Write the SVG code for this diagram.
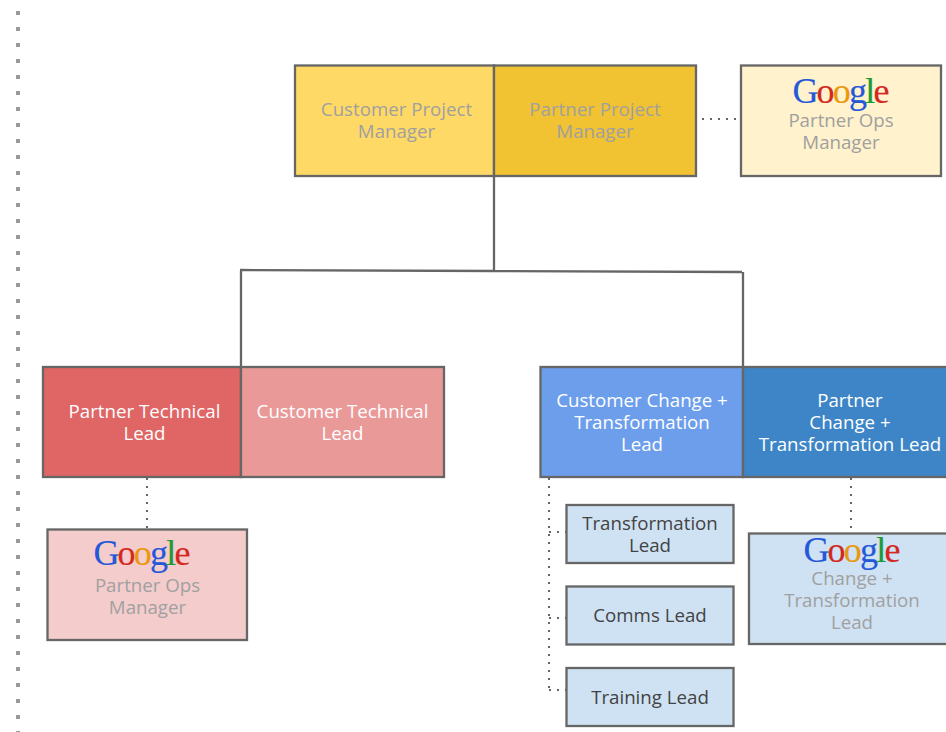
<svg xmlns="http://www.w3.org/2000/svg" width="946" height="732" viewBox="0 0 946 732">
<style>
.b{stroke:#666;stroke-width:2.300}
.t{font-family:"Open Sans","Noto Sans",sans-serif;font-size:18.700px;text-anchor:middle}
.g{fill:#a0a0a0}.w{fill:#fff}.d{fill:#434343}
.l{font-family:"Liberation Serif",serif;font-size:36px;letter-spacing:-1.800px;text-anchor:middle;stroke-width:.2px}
.c{fill:none;stroke:#666;stroke-width:2.300}
.o{fill:none;stroke:#666;stroke-width:2;stroke-dasharray:2 6}
.gb{fill:#2458d8;stroke:#2458d8}.gr{fill:#d4281f;stroke:#d4281f}.gy{fill:#e8980c;stroke:#e8980c}.gn{fill:#1c9a34;stroke:#1c9a34}
</style>
<defs>
<g id="logo"><text class="l" y="0"><tspan class="gb">G</tspan><tspan class="gr">o</tspan><tspan class="gy">o</tspan><tspan class="gb">g</tspan><tspan class="gn">l</tspan><tspan class="gr">e</tspan></text></g>
</defs>
<path id="margin" d="M18 11V732" fill="none" stroke="#999" stroke-width="4" stroke-dasharray="4 12"/>
<g id="connectors">
<path class="c" d="M494 176V271M240 270L494 271L742 272M241 271V367M743 272V367"/>
<path class="o" d="M702 119H738M147 478V531M851 478V531M549 478V692M549 532H566M549 618H566M549 690H566"/>
</g>
<g id="customer-pm"><rect class="b" x="295" y="65.500" width="199" height="110.500" fill="#ffd966"/><text class="t g" y="116"><tspan x="396.500">Customer Project</tspan><tspan x="396.500" dy="22">Manager</tspan></text></g>
<g id="partner-pm"><rect class="b" x="494" y="65.500" width="202" height="110.500" fill="#f1c232"/><text class="t g" y="116"><tspan x="595">Partner Project</tspan><tspan x="595" dy="22">Manager</tspan></text></g>
<g id="google-ops-top"><rect class="b" x="741" y="65.500" width="200" height="110.500" fill="#fff2cc"/><use href="#logo" x="840" y="103"/><text class="t g" y="127"><tspan x="841">Partner Ops</tspan><tspan x="841" dy="22">Manager</tspan></text></g>
<g id="partner-tech"><rect class="b" x="43" y="367" width="198" height="110" fill="#e06666"/><text class="t w" y="418"><tspan x="144.500">Partner Technical</tspan><tspan x="144.500" dy="22">Lead</tspan></text></g>
<g id="customer-tech"><rect class="b" x="241" y="367" width="203" height="110" fill="#ea9999"/><text class="t w" y="418"><tspan x="342.500">Customer Technical</tspan><tspan x="342.500" dy="22">Lead</tspan></text></g>
<g id="customer-change"><rect class="b" x="540.500" y="367" width="202.500" height="110" fill="#6d9eeb"/><text class="t w" y="407"><tspan x="642">Customer Change +</tspan><tspan x="642" dy="22">Transformation</tspan><tspan x="642" dy="22">Lead</tspan></text></g>
<g id="partner-change"><rect class="b" x="743" y="367" width="210" height="110" fill="#3d85c6"/><text class="t w" y="407"><tspan x="850">Partner</tspan><tspan x="850" dy="22">Change +</tspan><tspan x="850" dy="22">Transformation Lead</tspan></text></g>
<g id="google-ops-left"><rect class="b" x="47.500" y="529.500" width="199.500" height="110.500" fill="#f4cccc"/><use href="#logo" x="141" y="565"/><text class="t g" y="592"><tspan x="147.500">Partner Ops</tspan><tspan x="147.500" dy="22">Manager</tspan></text></g>
<g id="transformation-lead"><rect class="b" x="566.500" y="505" width="167" height="58" fill="#cfe2f3"/><text class="t d" y="530"><tspan x="650">Transformation</tspan><tspan x="650" dy="22">Lead</tspan></text></g>
<g id="comms-lead"><rect class="b" x="566.500" y="586.500" width="167" height="58" fill="#cfe2f3"/><text class="t d" x="650" y="622">Comms Lead</text></g>
<g id="training-lead"><rect class="b" x="566.500" y="668" width="167" height="58" fill="#cfe2f3"/><text class="t d" x="650" y="704">Training Lead</text></g>
<g id="google-change"><rect class="b" x="749" y="533.500" width="205" height="110.500" fill="#cfe2f3"/><use href="#logo" x="851" y="562"/><text class="t g" y="585"><tspan x="852">Change +</tspan><tspan x="852" dy="22">Transformation</tspan><tspan x="852" dy="22">Lead</tspan></text></g>
</svg>
